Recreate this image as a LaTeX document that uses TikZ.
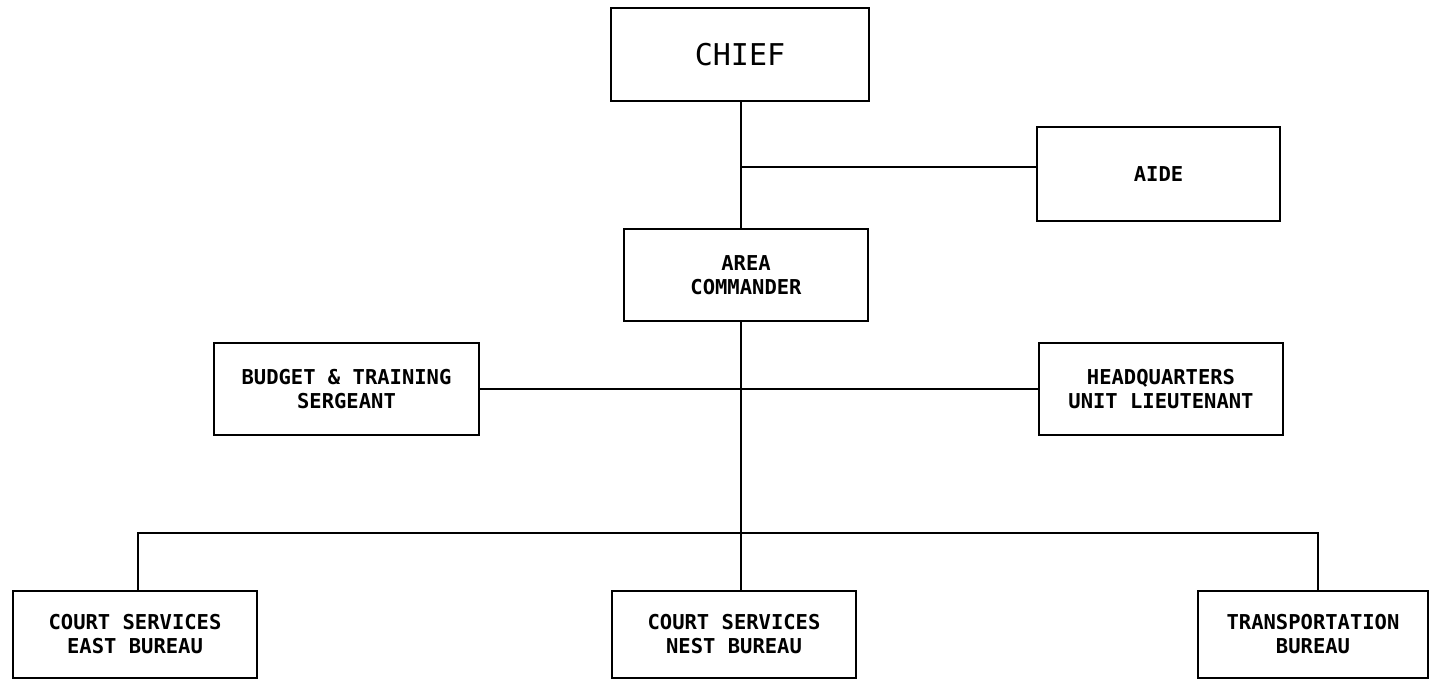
\documentclass[tikz,border=0pt]{standalone}
\usepackage{fontspec}
\setmainfont{DejaVu Sans Mono}
\begin{document}
\begin{tikzpicture}[x=1pt,y=-1pt,
  box/.style={draw, line width=2.8pt, inner sep=0pt, align=center,
    font=\bfseries\fontsize{20.5}{24}\selectfont},
  conn/.style={line width=2.8pt}]
\useasboundingbox (0,0) rectangle (1430,680);
\node[box, minimum width=258pt, minimum height=93pt, font=\fontsize{30}{36}\selectfont] (chief) at (740,54.5) {CHIEF};
\node[box, minimum width=243pt, minimum height=94pt] (aide) at (1158.5,174) {AIDE};
\node[box, minimum width=244pt, minimum height=92pt] (ac) at (746,275) {AREA\\COMMANDER};
\node[box, minimum width=265pt, minimum height=92pt] (budget) at (346.5,389) {BUDGET \& TRAINING\\SERGEANT};
\node[box, minimum width=244pt, minimum height=92pt] (hq) at (1161,389) {HEADQUARTERS\\UNIT LIEUTENANT};
\node[box, minimum width=244pt, minimum height=87pt] (east) at (135,634.5) {COURT SERVICES\\EAST BUREAU};
\node[box, minimum width=244pt, minimum height=87pt] (west) at (734,634.5) {COURT SERVICES\\NEST BUREAU};
\node[box, minimum width=230pt, minimum height=87pt] (trans) at (1313,634.5) {TRANSPORTATION\\BUREAU};
\coordinate (spine) at (741,0);
\coordinate (aidej) at (741,167);
\coordinate (busL) at (138,533);
\coordinate (busR) at (1318,533);
\draw[conn] (chief.south -| spine) -- (ac.north -| spine);
\draw[conn] (aidej) -- (aidej -| aide.west);
\draw[conn] (budget.east) -- (hq.west);
\draw[conn] (ac.south -| spine) -- (west.north -| spine);
\draw[conn] (east.north -| busL) -- (busL) -- (busR) -- (busR |- trans.north);
\end{tikzpicture}
\end{document}
